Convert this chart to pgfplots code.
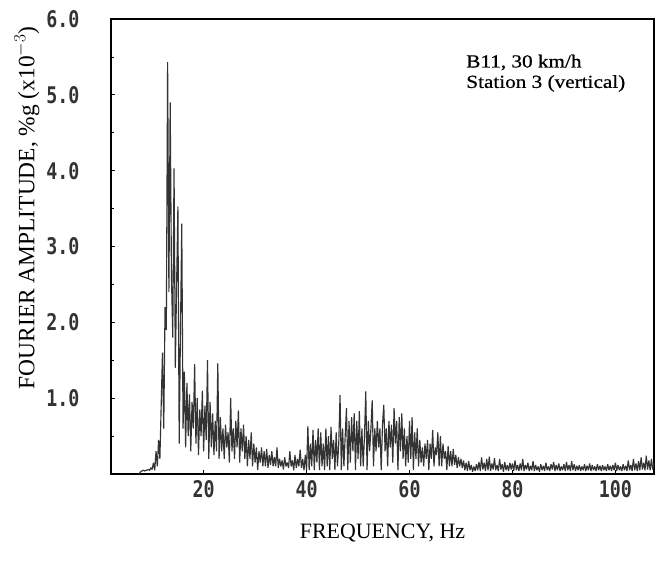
\documentclass[border=0pt]{standalone}
\usepackage{pgfplots}
\pgfplotsset{compat=1.18}
\usepackage{fontspec}
\setmainfont{Liberation Serif}
\newfontfamily\tickfont[FakeStretch=0.8]{DejaVu Sans Mono Bold}
\newfontfamily\notefont[FakeStretch=1.15,FakeBold=0.6]{Liberation Serif}
\definecolor{spec}{HTML}{333333}
\begin{document}
\begin{tikzpicture}
\useasboundingbox (-111bp,-88bp) rectangle (547bp,474bp);
\begin{axis}[
  scale only axis, width=543bp, height=455bp,
  xmin=2, xmax=107.5, ymin=0, ymax=6,
  axis line style={line width=1.3pt},
  tick align=inside, major tick length=4bp, minor tick length=3bp,
  xtick={20,40,60,80,100}, ytick={1,2,3,4,5,6}, minor ytick={0.5,1.5,2.5,3.5,4.5,5.5},
  xtick pos=bottom, ytick pos=left,
  tick style={line width=0.8pt, black},
  /pgf/number format/assume math mode=true,
  yticklabel={\pgfmathprintnumber[fixed,fixed zerofill,precision=1]{\tick}},
  ticklabel style={font=\tickfont\fontsize{23}{23}\selectfont, text=black!80},
  yticklabel style={xshift=-28bp},
  xticklabel style={yshift=-3bp},
  xlabel={FREQUENCY, Hz},
  xlabel style={font=\fontsize{22}{22}\selectfont, at={(axis description cs:0.5,-0.13)}, anchor=center},
  ylabel={FOURIER AMPLITUDE, \%g (x10$^{-3}$)},
  ylabel style={font=\fontsize{23.5}{23.5}\selectfont, at={(axis description cs:-0.155,0.585)}, anchor=center},
  clip=true,
]
\addplot[color=spec, line width=1.15pt, line join=miter, miter limit=2] coordinates {
(7.5,0)(7.75,0.03)(8,0.04)(8.25,0.05)(8.5,0.04)(8.75,0.05)(9,0.05)(9.25,0.06)(9.5,0.05)(9.75,0.08)
(10,0.06)(10.25,0.15)(10.5,0.05)(10.75,0.3)(11,0.1)(11.25,0.45)(11.5,0.2)(11.75,0.9)(12,1.6)(12.25,0.6)
(12.5,2.2)(12.75,1.9)(13,5.43)(13.25,2.4)(13.5,4.9)(13.75,2.6)(14,1.8)(14.25,4.03)(14.5,1.4)(14.75,2.5)
(15,3.53)(15.25,0.4)(15.5,1.9)(15.75,3.3)(16,0.6)(16.25,1.35)(16.5,0.35)(16.75,1.2)(17,0.5)(17.25,1.05)
(17.5,0.3)(17.75,0.95)(18,0.6)(18.25,1.45)(18.5,0.4)(18.75,1.0)(19,0.25)(19.25,0.85)(19.5,0.5)(19.75,1.1)
(20,0.3)(20.25,0.9)(20.5,0.45)(20.75,1.5)(21,0.2)(21.25,0.95)(21.5,0.35)(21.75,0.8)(22,0.25)(22.25,0.7)
(22.5,0.3)(22.75,1.46)(23,0.2)(23.25,0.75)(23.5,0.3)(23.75,0.6)(24,0.2)(24.25,0.65)(24.5,0.35)(24.75,0.55)
(25,0.15)(25.25,1.0)(25.5,0.3)(25.75,0.6)(26,0.2)(26.25,0.7)(26.5,0.35)(26.75,0.84)(27,0.15)(27.25,0.6)
(27.5,0.3)(27.75,0.65)(28,0.2)(28.25,0.5)(28.5,0.1)(28.75,0.45)(29,0.2)(29.25,0.55)(29.5,0.1)(29.75,0.4)
(30,0.15)(30.25,0.35)(30.5,0.05)(30.75,0.3)(31,0.15)(31.25,0.35)(31.5,0.1)(31.75,0.3)(32,0.1)(32.25,0.33)
(32.5,0.08)(32.75,0.25)(33,0.12)(33.25,0.3)(33.5,0.1)(33.75,0.22)(34,0.1)(34.25,0.35)(34.5,0.08)(34.75,0.2)
(35,0.1)(35.25,0.18)(35.5,0.06)(35.75,0.22)(36,0.1)(36.25,0.15)(36.5,0.08)(36.75,0.3)(37,0.1)(37.25,0.18)
(37.5,0.05)(37.75,0.25)(38,0.08)(38.25,0.2)(38.5,0.1)(38.75,0.32)(39,0.08)(39.25,0.2)(39.5,0.05)(39.75,0.25)
(40,0.05)(40.25,0.63)(40.5,0.05)(40.75,0.4)(41,0.1)(41.25,0.58)(41.5,0.05)(41.75,0.45)(42,0.15)(42.25,0.6)
(42.5,0.05)(42.75,0.55)(43,0.1)(43.25,0.4)(43.5,0.05)(43.75,0.6)(44,0.1)(44.25,0.5)(44.5,0.05)(44.75,0.62)
(45,0.2)(45.25,0.45)(45.5,0.05)(45.75,0.55)(46,0.1)(46.25,0.4)(46.5,1.04)(46.75,0.05)(47,0.6)(47.25,0.1)
(47.5,0.5)(47.75,0.87)(48,0.05)(48.25,0.7)(48.5,0.15)(48.75,0.75)(49,0.3)(49.25,0.8)(49.5,0.05)(49.75,0.7)
(50,0.2)(50.25,0.83)(50.5,0.1)(50.75,0.6)(51,0.1)(51.25,0.5)(51.5,1.09)(51.75,0.05)(52,0.7)(52.25,0.3)
(52.5,0.6)(52.75,0.97)(53,0.1)(53.25,0.6)(53.5,0.3)(53.75,0.7)(54,0.35)(54.25,0.6)(54.5,0.05)(54.75,0.65)
(55,0.91)(55.25,0.3)(55.5,0.6)(55.75,0.1)(56,0.7)(56.25,0.35)(56.5,0.65)(56.75,0.15)(57,0.87)(57.25,0.4)
(57.5,0.7)(57.75,0.05)(58,0.75)(58.25,0.3)(58.5,0.8)(58.75,0.2)(59,0.6)(59.25,0.1)(59.5,0.5)(59.75,0.15)
(60,0.7)(60.25,0.2)(60.5,0.75)(60.75,0.05)(61,0.55)(61.25,0.2)(61.5,0.6)(61.75,0.1)(62,0.45)(62.25,0.15)
(62.5,0.35)(62.75,0.1)(63,0.4)(63.25,0.2)(63.5,0.45)(63.75,0.05)(64,0.4)(64.25,0.2)(64.5,0.58)(64.75,0.1)
(65,0.35)(65.25,0.25)(65.5,0.55)(65.75,0.1)(66,0.5)(66.25,0.1)(66.5,0.4)(66.75,0.2)(67,0.3)(67.25,0.05)
(67.5,0.37)(67.75,0.1)(68,0.3)(68.25,0.1)(68.5,0.33)(68.75,0.12)(69,0.25)(69.25,0.08)(69.5,0.22)(69.75,0.1)
(70,0.2)(70.25,0.08)(70.5,0.18)(70.75,0.05)(71,0.15)(71.25,0.04)(71.5,0.17)(71.75,0.05)(72,0.12)(72.25,0.03)
(72.5,0.1)(72.75,0.04)(73,0.13)(73.25,0.05)(73.5,0.16)(73.75,0.04)(74,0.22)(74.25,0.06)(74.5,0.15)(74.75,0.04)
(75,0.2)(75.25,0.05)(75.5,0.23)(75.75,0.04)(76,0.14)(76.25,0.06)(76.5,0.21)(76.75,0.05)(77,0.12)(77.25,0.04)
(77.5,0.2)(77.75,0.06)(78,0.13)(78.25,0.03)(78.5,0.16)(78.75,0.05)(79,0.12)(79.25,0.04)(79.5,0.15)(79.75,0.06)
(80,0.14)(80.25,0.04)(80.5,0.18)(80.75,0.05)(81,0.12)(81.25,0.04)(81.5,0.14)(81.75,0.05)(82,0.2)(82.25,0.04)
(82.5,0.12)(82.75,0.06)(83,0.15)(83.25,0.04)(83.5,0.11)(83.75,0.05)(84,0.17)(84.25,0.04)(84.5,0.12)(84.75,0.05)
(85,0.1)(85.25,0.03)(85.5,0.13)(85.75,0.05)(86,0.11)(86.25,0.04)(86.5,0.15)(86.75,0.05)(87,0.1)(87.25,0.04)
(87.5,0.13)(87.75,0.06)(88,0.16)(88.25,0.04)(88.5,0.12)(88.75,0.05)(89,0.14)(89.25,0.04)(89.5,0.1)(89.75,0.05)
(90,0.13)(90.25,0.04)(90.5,0.16)(90.75,0.05)(91,0.12)(91.25,0.04)(91.5,0.17)(91.75,0.05)(92,0.13)(92.25,0.04)
(92.5,0.11)(92.75,0.05)(93,0.12)(93.25,0.04)(93.5,0.1)(93.75,0.05)(94,0.13)(94.25,0.04)(94.5,0.11)(94.75,0.05)
(95,0.14)(95.25,0.04)(95.5,0.12)(95.75,0.05)(96,0.1)(96.25,0.04)(96.5,0.13)(96.75,0.05)(97,0.11)(97.25,0.04)
(97.5,0.12)(97.75,0.05)(98,0.1)(98.25,0.04)(98.5,0.13)(98.75,0.05)(99,0.11)(99.25,0.04)(99.5,0.12)(99.75,0.05)
(100,0.15)(100.25,0.04)(100.5,0.12)(100.75,0.05)(101,0.1)(101.25,0.04)(101.5,0.13)(101.75,0.05)(102,0.11)(102.25,0.04)
(102.5,0.18)(102.75,0.05)(103,0.12)(103.25,0.04)(103.5,0.2)(103.75,0.05)(104,0.14)(104.25,0.04)(104.5,0.17)(104.75,0.05)
(105,0.22)(105.25,0.06)(105.5,0.15)(105.75,0.05)(106,0.24)(106.25,0.06)(106.5,0.18)(106.75,0.05)(107,0.2)(107.25,0.06)
(107.5,0.15)
};
\node[anchor=north west, align=left, inner sep=0pt, font=\notefont\fontsize{18.5}{20.5}\selectfont]
  at (axis description cs:0.654,0.922) {B11, 30 km/h\\Station 3 (vertical)};
\end{axis}
\end{tikzpicture}
\end{document}
